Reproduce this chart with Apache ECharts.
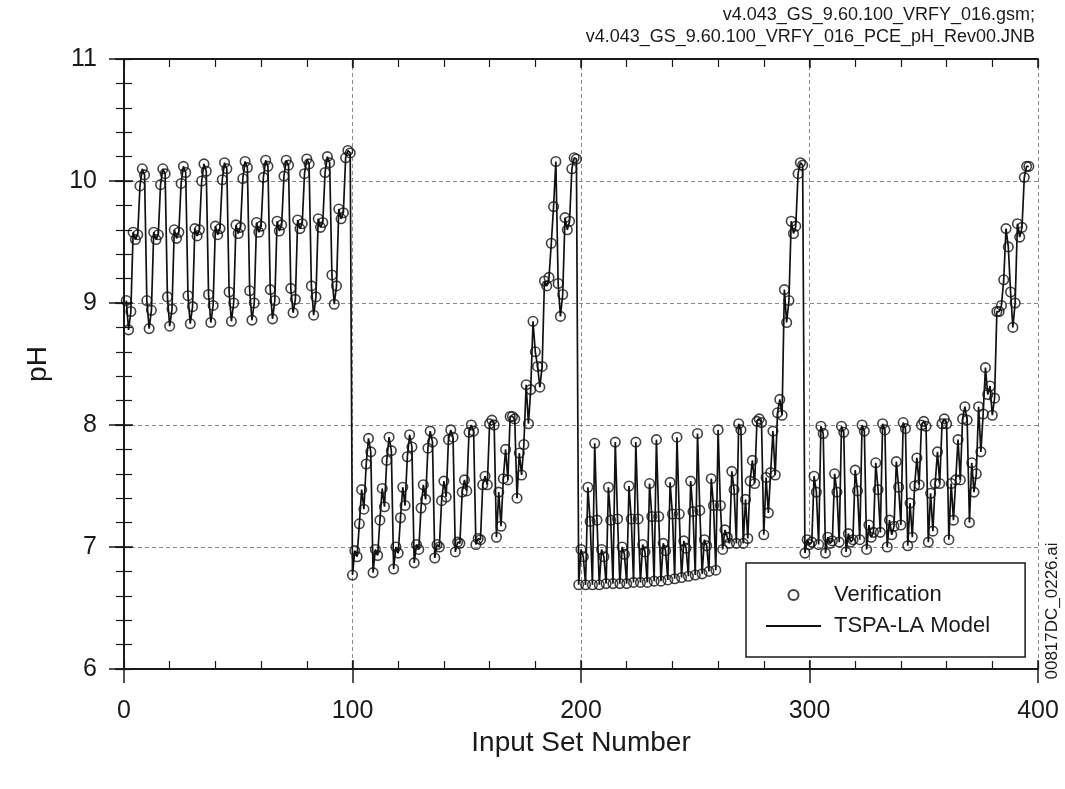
<!DOCTYPE html>
<html>
<head>
<meta charset="utf-8">
<script src="https://cdn.jsdelivr.net/npm/echarts@6/dist/echarts.min.js"></script>
<style>html,body{margin:0;padding:0;background:#fff;}#c{width:1065px;height:789px;}</style>
</head>
<body>
<div id="c"></div>
<script>
// Input sets 1..99
const seg1 = [
  9.02, 8.78, 8.93, 9.58, 9.52, 9.56, 9.96, 10.10, 10.05,
  9.02, 8.79, 8.94, 9.58, 9.52, 9.56, 9.97, 10.10, 10.06,
  9.05, 8.81, 8.95, 9.60, 9.53, 9.58, 9.98, 10.12, 10.07,
  9.06, 8.83, 8.97, 9.61, 9.55, 9.60, 10.00, 10.14, 10.08,
  9.07, 8.84, 8.98, 9.63, 9.56, 9.61, 10.01, 10.15, 10.10,
  9.09, 8.85, 9.00, 9.64, 9.57, 9.62, 10.02, 10.16, 10.11,
  9.10, 8.86, 9.00, 9.66, 9.58, 9.63, 10.03, 10.17, 10.12,
  9.11, 8.87, 9.02, 9.67, 9.59, 9.64, 10.04, 10.17, 10.13,
  9.12, 8.92, 9.03, 9.68, 9.61, 9.65, 10.06, 10.18, 10.14,
  9.14, 8.90, 9.05, 9.69, 9.62, 9.66, 10.07, 10.20, 10.15,
  9.23, 8.99, 9.14, 9.77, 9.69, 9.74, 10.19, 10.25, 10.23
];
// Input sets 100..198
const seg2 = [
  6.77, 6.97, 6.92, 7.19, 7.47, 7.31, 7.68, 7.89, 7.78,
  6.79, 6.98, 6.93, 7.22, 7.48, 7.33, 7.71, 7.90, 7.79,
  6.82, 7.00, 6.95, 7.24, 7.49, 7.34, 7.74, 7.92, 7.82,
  6.87, 7.02, 6.98, 7.32, 7.51, 7.39, 7.81, 7.95, 7.86,
  6.91, 7.02, 7.00, 7.38, 7.54, 7.41, 7.88, 7.96, 7.90,
  6.96, 7.04, 7.03, 7.45, 7.55, 7.46, 7.94, 8.00, 7.95,
  7.02, 7.07, 7.06, 7.51, 7.58, 7.51, 8.01, 8.04, 8.00,
  7.08, 7.45, 7.17, 7.56, 7.80, 7.55, 8.07, 8.07, 8.05,
  7.40, 7.77, 7.59, 7.84, 8.33, 8.01, 8.29, 8.85, 8.60,
  8.48, 8.31, 8.48, 9.18, 9.14, 9.21, 9.49, 9.79, 10.16,
  9.16, 8.89, 9.07, 9.70, 9.60, 9.67, 10.10, 10.19, 10.18
];
// Input sets 199..297
const seg3 = [
  6.69, 6.98, 6.92, 6.69, 7.49, 7.21, 6.69, 7.85, 7.22,
  6.69, 6.98, 6.92, 6.70, 7.49, 7.22, 6.70, 7.86, 7.23,
  6.70, 7.00, 6.94, 6.70, 7.50, 7.23, 6.71, 7.86, 7.23,
  6.71, 7.02, 6.96, 6.71, 7.52, 7.25, 6.72, 7.88, 7.25,
  6.72, 7.03, 6.97, 6.73, 7.53, 7.27, 6.74, 7.90, 7.27,
  6.75, 7.05, 6.99, 6.76, 7.54, 7.29, 6.77, 7.93, 7.30,
  6.78, 7.06, 7.01, 6.80, 7.56, 7.34, 6.81, 7.96, 7.34,
  6.98, 7.14, 7.08, 7.03, 7.62, 7.47, 7.03, 8.01, 7.96,
  7.03, 7.39, 7.07, 7.54, 7.71, 7.52, 8.03, 8.05, 8.02,
  7.10, 7.57, 7.28, 7.61, 7.95, 7.59, 8.10, 8.21, 8.08,
  9.11, 8.84, 9.02, 9.67, 9.57, 9.63, 10.06, 10.15, 10.13
];
// Input sets 298..396
const seg4 = [
  6.95, 7.06, 7.02, 7.04, 7.58, 7.45, 7.02, 7.99, 7.93,
  6.95, 7.08, 7.03, 7.05, 7.60, 7.45, 7.04, 7.99, 7.94,
  6.96, 7.11, 7.04, 7.06, 7.63, 7.46, 7.06, 8.00, 7.95,
  6.98, 7.18, 7.08, 7.12, 7.69, 7.47, 7.12, 8.01, 7.96,
  7.00, 7.22, 7.10, 7.17, 7.70, 7.49, 7.18, 8.02, 7.97,
  7.01, 7.36, 7.08, 7.50, 7.73, 7.51, 8.00, 8.03, 7.99,
  7.04, 7.44, 7.13, 7.52, 7.78, 7.52, 8.01, 8.05, 8.01,
  7.06, 7.52, 7.22, 7.55, 7.88, 7.55, 8.05, 8.15, 8.04,
  7.20, 7.69, 7.45, 7.60, 8.15, 7.78, 8.09, 8.47, 8.25,
  8.32, 8.08, 8.22, 8.93, 8.93, 8.98, 9.19, 9.61, 9.46,
  9.09, 8.80, 9.00, 9.65, 9.54, 9.62, 10.03, 10.12, 10.12
];
const firstSet = 1;
const xTicks = { min: 0, max: 400, interval: 100, minorInterval: 20 };
const yTicks = { min: 6, max: 11, interval: 1, minorInterval: 0.2 };
const seriesNames = ['Verification', 'TSPA-LA Model'];
const headerLines = ['v4.043_GS_9.60.100_VRFY_016.gsm;', 'v4.043_GS_9.60.100_VRFY_016_PCE_pH_Rev00.JNB'];
const sideLabel = '00817DC_0226.ai';
const xTitle = 'Input Set Number';
const yTitle = 'pH';

const ph = seg1.concat(seg2, seg3, seg4);
const data = ph.map((v, i) => [firstSet + i, v]);

const FONT = '"Liberation Sans", Arial, Helvetica, sans-serif';
const INK = '#1a1a1a';

const chart = echarts.init(document.getElementById('c'), null, { renderer: 'canvas' });
const tickLine = { color: INK, width: 1.5 };
const minorLine = { color: INK, width: 1.2 };

// helper: a tick-only axis
function tickAxis(kind, position, interval, inside, length, line) {
  const r = kind === 'x' ? xTicks : yTicks;
  return {
    type: 'value', min: r.min, max: r.max, interval: interval, position: position,
    axisLine: { show: false },
    axisTick: { show: true, inside: inside, length: length, lineStyle: line },
    minorTick: { show: false },
    axisLabel: { show: false }, splitLine: { show: false }
  };
}

chart.setOption({
  animation: false,
  backgroundColor: '#fff',
  textStyle: { fontFamily: FONT, color: INK },
  grid: { left: 124, top: 59, right: 27, bottom: 120, containLabel: false },
  xAxis: [
    {
      type: 'value', min: xTicks.min, max: xTicks.max, interval: xTicks.interval,
      position: 'bottom',
      name: xTitle, nameLocation: 'middle', nameGap: 59,
      nameTextStyle: { fontSize: 28, color: INK, fontFamily: FONT },
      axisLine: { show: true, lineStyle: { color: INK, width: 2 } },
      axisTick: { show: false },
      minorTick: { show: false },
      axisLabel: { margin: 30, fontSize: 25, color: INK, fontFamily: FONT },
      splitLine: { show: true, lineStyle: { color: '#8a8a8a', type: [4, 3], width: 1 } }
    },
    tickAxis('x', 'bottom', xTicks.interval, false, 14, tickLine),
    tickAxis('x', 'bottom', xTicks.interval, true, 9, tickLine),
    tickAxis('x', 'bottom', xTicks.minorInterval, true, 8, minorLine),
    {
      type: 'value', min: xTicks.min, max: xTicks.max, interval: xTicks.interval,
      position: 'top',
      axisLine: { show: true, lineStyle: { color: INK, width: 2 } },
      axisTick: { show: false }, minorTick: { show: false },
      axisLabel: { show: false }, splitLine: { show: false }
    },
    tickAxis('x', 'top', xTicks.interval, true, 9, tickLine),
    tickAxis('x', 'top', xTicks.minorInterval, true, 8, minorLine)
  ],
  yAxis: [
    {
      type: 'value', min: yTicks.min, max: yTicks.max, interval: yTicks.interval,
      position: 'left',
      name: yTitle, nameLocation: 'middle', nameGap: 72, nameRotate: 90,
      nameTextStyle: { fontSize: 28, color: INK, fontFamily: FONT },
      axisLine: { show: true, lineStyle: { color: INK, width: 2 } },
      axisTick: { show: false },
      minorTick: { show: false },
      axisLabel: { margin: 27, fontSize: 25, color: INK, fontFamily: FONT },
      splitLine: { show: true, lineStyle: { color: '#8a8a8a', type: [4, 3], width: 1 } }
    },
    tickAxis('y', 'left', yTicks.interval, false, 15, tickLine),
    tickAxis('y', 'left', yTicks.interval, true, 9, tickLine),
    tickAxis('y', 'left', yTicks.minorInterval, true, 8, minorLine),
    {
      type: 'value', min: yTicks.min, max: yTicks.max, interval: yTicks.interval,
      position: 'right',
      axisLine: { show: true, lineStyle: { color: INK, width: 2 } },
      axisTick: { show: false }, minorTick: { show: false },
      axisLabel: { show: false }, splitLine: { show: false }
    },
    tickAxis('y', 'right', yTicks.interval, true, 9, tickLine),
    tickAxis('y', 'right', yTicks.minorInterval, true, 8, minorLine)
  ],
  legend: {
    data: [
      { name: seriesNames[0] },
      { name: seriesNames[1], itemStyle: { color: 'rgba(0,0,0,0)', borderWidth: 0 } }
    ],
    orient: 'vertical',
    left: 746, top: 563,
    padding: [21, 35, 20, 19],
    itemGap: 9,
    itemWidth: 55, itemHeight: 10,
    backgroundColor: '#fff',
    borderColor: INK, borderWidth: 1.5, borderRadius: 0,
    textStyle: { fontSize: 22, color: INK, fontFamily: FONT, lineHeight: 22, padding: [0, 0, 0, 8] },
    selectedMode: false
  },
  series: [
    {
      name: seriesNames[1], type: 'line', data: data,
      xAxisIndex: 0, yAxisIndex: 0,
      symbol: 'none', showSymbol: false,
      lineStyle: { color: '#111', width: 1.7 },
      itemStyle: { color: '#111' },
      z: 2
    },
    {
      name: seriesNames[0], type: 'scatter', data: data,
      xAxisIndex: 0, yAxisIndex: 0,
      symbol: 'circle', symbolSize: 9.5,
      itemStyle: { color: 'rgba(0,0,0,0)', borderColor: '#111', borderWidth: 1.6 },
      z: 3
    }
  ],
  graphic: [
    { type: 'text', x: 1035, y: 15, style: { text: headerLines[0], font: '18px ' + FONT, fill: INK, textAlign: 'right', textVerticalAlign: 'middle' } },
    { type: 'text', x: 1035, y: 37, style: { text: headerLines[1], font: '18px ' + FONT, fill: INK, textAlign: 'right', textVerticalAlign: 'middle' } },
    { type: 'text', x: 1052, y: 611, rotation: Math.PI / 2, style: { text: sideLabel, font: '17px ' + FONT, fill: INK, textAlign: 'center', textVerticalAlign: 'middle' } }
  ]
});
</script>
</body>
</html>
